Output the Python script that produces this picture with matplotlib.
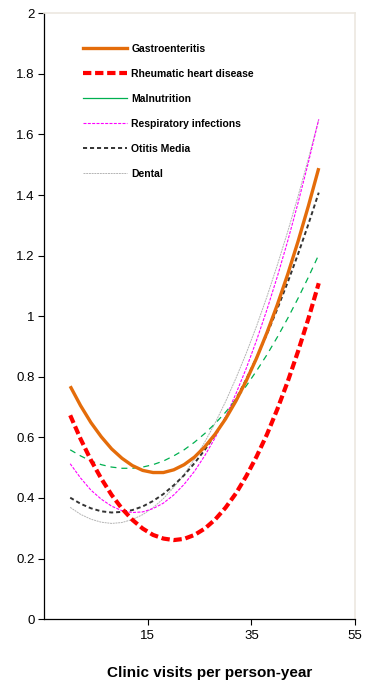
import matplotlib
matplotlib.use("Agg")
import matplotlib.pyplot as plt
from matplotlib.lines import Line2D

plt.rcParams['font.family'] = ['Liberation Sans', 'DejaVu Sans']

### values
visits = [0, 2, 4, 6, 8, 10, 12, 14, 16, 18, 20, 22, 24,
          26, 28, 30, 32, 34, 36, 38, 40, 42, 44, 46, 48]
gastro = [0.769, 0.705, 0.649, 0.602, 0.562, 0.531, 0.507, 0.491, 0.484, 0.484, 0.493, 0.510, 0.535,
          0.569, 0.611, 0.661, 0.720, 0.787, 0.862, 0.946, 1.038, 1.138, 1.247, 1.364, 1.489]
rheumatic = [0.673, 0.595, 0.525, 0.464, 0.410, 0.365, 0.328, 0.299, 0.278, 0.266, 0.261, 0.265, 0.278,
             0.299, 0.329, 0.368, 0.415, 0.472, 0.537, 0.610, 0.693, 0.784, 0.884, 0.992, 1.109]
malnutrition = [0.559, 0.539, 0.522, 0.510, 0.502, 0.498, 0.498, 0.502, 0.510, 0.522, 0.539, 0.559, 0.584,
                0.613, 0.646, 0.683, 0.725, 0.770, 0.820, 0.873, 0.931, 0.993, 1.059, 1.129, 1.203]
respiratory = [0.513, 0.466, 0.426, 0.396, 0.373, 0.358, 0.352, 0.354, 0.365, 0.383, 0.410, 0.445, 0.488,
               0.540, 0.599, 0.667, 0.744, 0.828, 0.921, 1.022, 1.131, 1.248, 1.374, 1.508, 1.650]
otitis = [0.401, 0.381, 0.366, 0.356, 0.352, 0.354, 0.360, 0.372, 0.390, 0.413, 0.442, 0.475, 0.515,
          0.559, 0.609, 0.665, 0.726, 0.792, 0.864, 0.941, 1.024, 1.112, 1.205, 1.304, 1.408]
dental = [0.369, 0.346, 0.330, 0.320, 0.316, 0.319, 0.329, 0.345, 0.368, 0.398, 0.435, 0.478, 0.528,
          0.585, 0.648, 0.718, 0.795, 0.878, 0.968, 1.065, 1.169, 1.279, 1.396, 1.520, 1.650]

names = ["Gastroenteritis", "Rheumatic heart disease", "Malnutrition",
         "Respiratory infections", "Otitis Media", "Dental"]
yticks = [0, 0.2, 0.4, 0.6, 0.8, 1.0, 1.2, 1.4, 1.6, 1.8, 2.0]
ylabels = ["0", "0.2", "0.4", "0.6", "0.8", "1", "1.2", "1.4", "1.6", "1.8", "2"]
xticks = [15, 35, 55]

fig = plt.figure(figsize=(3.65, 6.83), dpi=100)
ax = fig.add_axes([0.1214, 0.0935, 0.8512, 0.8870])

ax.plot(visits, dental, color="#B4B4B4", lw=0.7, dashes=(2, 0.8))
ax.plot(visits, otitis, color="#333333", lw=1.4, dashes=(2.1, 1.5))
ax.plot(visits, respiratory, color="#FF00FF", lw=0.8, dashes=(2.7, 1.2))
ax.plot(visits, malnutrition, color="#00B050", lw=0.9, dashes=(4.8, 4))
ax.plot(visits, rheumatic, color="#FF0000", lw=3, dashes=(2, 0.9))
ax.plot(visits, gastro, color="#E46C0A", lw=2.4, solid_capstyle="butt")

### legend handles (malnutrition shown solid in the key)
handles = [
    Line2D([], [], color="#E46C0A", lw=2.4),
    Line2D([], [], color="#FF0000", lw=3, dashes=(2, 0.9)),
    Line2D([], [], color="#00B050", lw=0.9),
    Line2D([], [], color="#FF00FF", lw=0.8, dashes=(2.7, 1.2)),
    Line2D([], [], color="#333333", lw=1.4, dashes=(2.1, 1.5)),
    Line2D([], [], color="#B4B4B4", lw=0.7, dashes=(2, 0.8)),
]
leg = ax.legend(handles, names, loc="upper left", bbox_to_anchor=(0.124, 0.95),
                frameon=False, prop={"weight": "bold", "size": 7.5},
                handlelength=4.2, handletextpad=0.45, labelspacing=1.45,
                borderpad=0, borderaxespad=0)

ax.set_xlim(-5, 55)
ax.set_ylim(0, 2)
ax.set_xticks(xticks)
ax.set_xticklabels([str(t) for t in xticks], fontsize=9.5)
ax.set_yticks(yticks)
ax.set_yticklabels(ylabels, fontsize=9.5)
ax.tick_params(direction="out", length=4, width=0.8)
ax.tick_params(axis="x", pad=3.5)
ax.tick_params(axis="y", pad=3)

for s in ["top", "right"]:
    ax.spines[s].set_color("#ECE8E0")
    ax.spines[s].set_linewidth(1.2)
for s in ["left", "bottom"]:
    ax.spines[s].set_linewidth(0.9)

ax.set_xlabel("Clinic visits per person-year", fontsize=11, fontweight="bold")
ax.xaxis.set_label_coords(0.533, -0.078)

fig.savefig("out.png", dpi=100)
